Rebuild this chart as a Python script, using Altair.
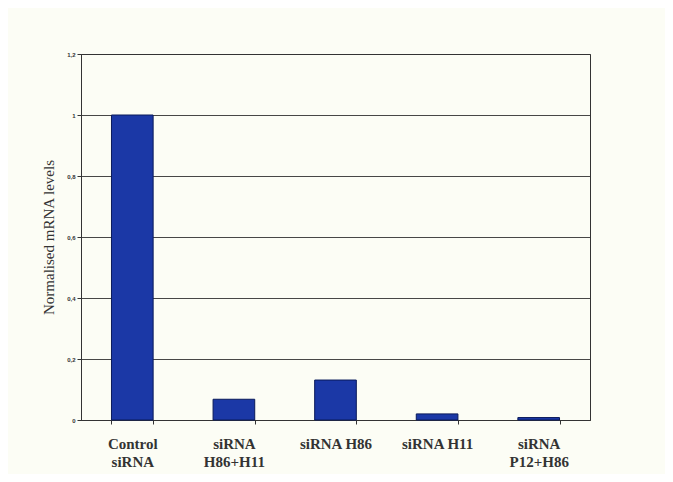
import altair as alt
import pandas as pd

categories = ["Control|siRNA", "siRNA|H86+H11", "siRNA H86", "siRNA H11", "siRNA|P12+H86"]
values = [1.0, 0.068, 0.131, 0.02, 0.008]
y_ticks = [0, 0.2, 0.4, 0.6, 0.8, 1.0, 1.2]

df = pd.DataFrame({"cat": categories, "val": values})

chart = alt.Chart(df).mark_bar(
    color="#1b38a6", stroke="#0a1a5a", strokeWidth=1
).encode(
    x=alt.X("cat:N", sort=categories, title=None,
            scale=alt.Scale(paddingInner=0.59, paddingOuter=0.3),
            axis=alt.Axis(labelAngle=0, tickBand="extent", labelExpr="split(datum.label, '|')",
                          labelFont="Liberation Serif", labelFontSize=15, labelColor="#333",
                          labelPadding=12, labelLineHeight=18, tickSize=4, tickColor="#333",
                          domainColor="#333", labelFontWeight="bold")),
    y=alt.Y("val:Q", title="Normalised mRNA levels",
            scale=alt.Scale(domain=[0, 1.2], nice=False),
            axis=alt.Axis(values=y_ticks, labelExpr="replace(format(datum.value, '~g'), '.', ',')",
                          labelFont="Liberation Sans", labelFontSize=6, labelFontWeight="bold",
                          labelColor="#333", tickSize=4, tickColor="#333", domainColor="#333",
                          gridColor="#333", gridOpacity=0.9, titleFont="Liberation Serif",
                          titleFontSize=15, titleFontWeight="normal", titleColor="#333",
                          titlePadding=10)),
).properties(
    width=509, height=366, background="#fcfdf5",
    padding={"left": 73, "top": 46, "right": 75, "bottom": 54},
    autosize=alt.AutoSizeParams(type="none"),
).configure_view(stroke="#333", strokeWidth=1)

chart.save("out.html", embed_options={"renderer": "svg", "actions": False})
